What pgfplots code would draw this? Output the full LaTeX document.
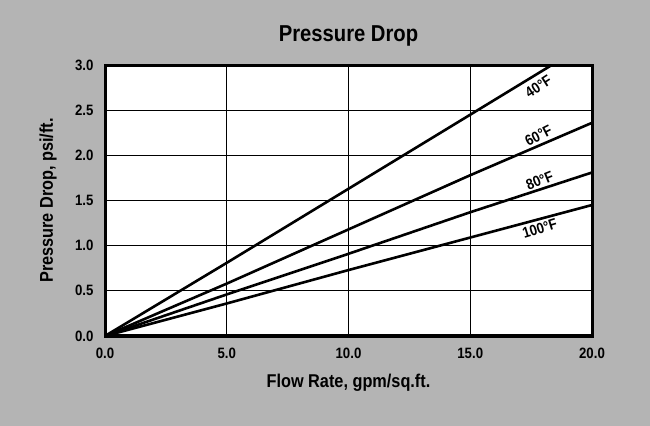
\documentclass[border=0pt]{standalone}
\usepackage{pgfplots}
\pgfplotsset{compat=1.18}
\usepackage{fontspec}
\setmainfont{Liberation Sans}[FakeStretch=0.88]
\definecolor{bggray}{RGB}{180,180,180}

\begin{document}
\begin{tikzpicture}
    % grey page behind everything, 650 x 426
    \fill[bggray] (0,0) rectangle (650bp,426bp);

    \begin{axis}[
        at={(105bp,90bp)},
        anchor=origin,
        scale only axis,
        width=487bp,
        height=271bp,
        xmin=0, xmax=20,
        ymin=0, ymax=3,
        xtick={0,5,...,20},
        ytick={0,0.5,...,3},
        major tick length=0pt,
        grid=major,
        grid style={black, line width=1bp},
        axis line style={line width=3bp},
        axis background/.style={fill=white},
        font=\bfseries,
        /pgf/number format/.cd, fixed, fixed zerofill, precision=1, assume math mode=true,
        /pgfplots/.cd,
        tick label style={font=\fontsize{15bp}{17bp}\selectfont\bfseries},
        xticklabel style={yshift=-9bp},
        yticklabel style={xshift=-8bp},
        title={Pressure Drop},
        title style={at={(axis description cs:0.5,1)}, anchor=center, yshift=23bp,
            font=\fontsize{23bp}{25bp}\selectfont\bfseries},
        xlabel={Flow Rate, gpm/sq.ft.},
        xlabel style={at={(axis description cs:0.5,0)}, anchor=center, yshift=-47bp,
            font=\fontsize{18.5bp}{20bp}\selectfont\bfseries},
        ylabel={Pressure Drop, psi/ft.},
        ylabel style={at={(axis description cs:0,0.5)}, anchor=center, yshift=57bp,
            font=\fontsize{18.5bp}{20bp}\selectfont\bfseries},
    ]

    % 40 F
    \addplot[black, line width=2.6bp] coordinates {
        (0,0) (5,0.81) (10,1.63) (15,2.45) (18.35,3.0)
    };
    % 60 F
    \addplot[black, line width=2.6bp] coordinates {
        (0,0) (5,0.58) (10,1.18) (15,1.78) (20,2.36)
    };
    % 80 F
    \addplot[black, line width=2.6bp] coordinates {
        (0,0) (5,0.46) (10,0.91) (15,1.37) (20,1.81)
    };
    % 100 F
    \addplot[black, line width=2.6bp] coordinates {
        (0,0) (5,0.36) (10,0.73) (15,1.09) (20,1.45)
    };

    \node[rotate=33, inner sep=0pt, font=\fontsize{15bp}{17bp}\selectfont\bfseries] at (axis cs:17.8,2.76) {40°F};
    \node[rotate=27, inner sep=0pt, font=\fontsize{15bp}{17bp}\selectfont\bfseries] at (axis cs:17.8,2.22) {60°F};
    \node[rotate=22, inner sep=0pt, font=\fontsize{15bp}{17bp}\selectfont\bfseries] at (axis cs:17.85,1.72) {80°F};
    \node[rotate=17, inner sep=0pt, font=\fontsize{15bp}{17bp}\selectfont\bfseries] at (axis cs:17.85,1.19) {100°F};

    \end{axis}
\end{tikzpicture}
\end{document}
